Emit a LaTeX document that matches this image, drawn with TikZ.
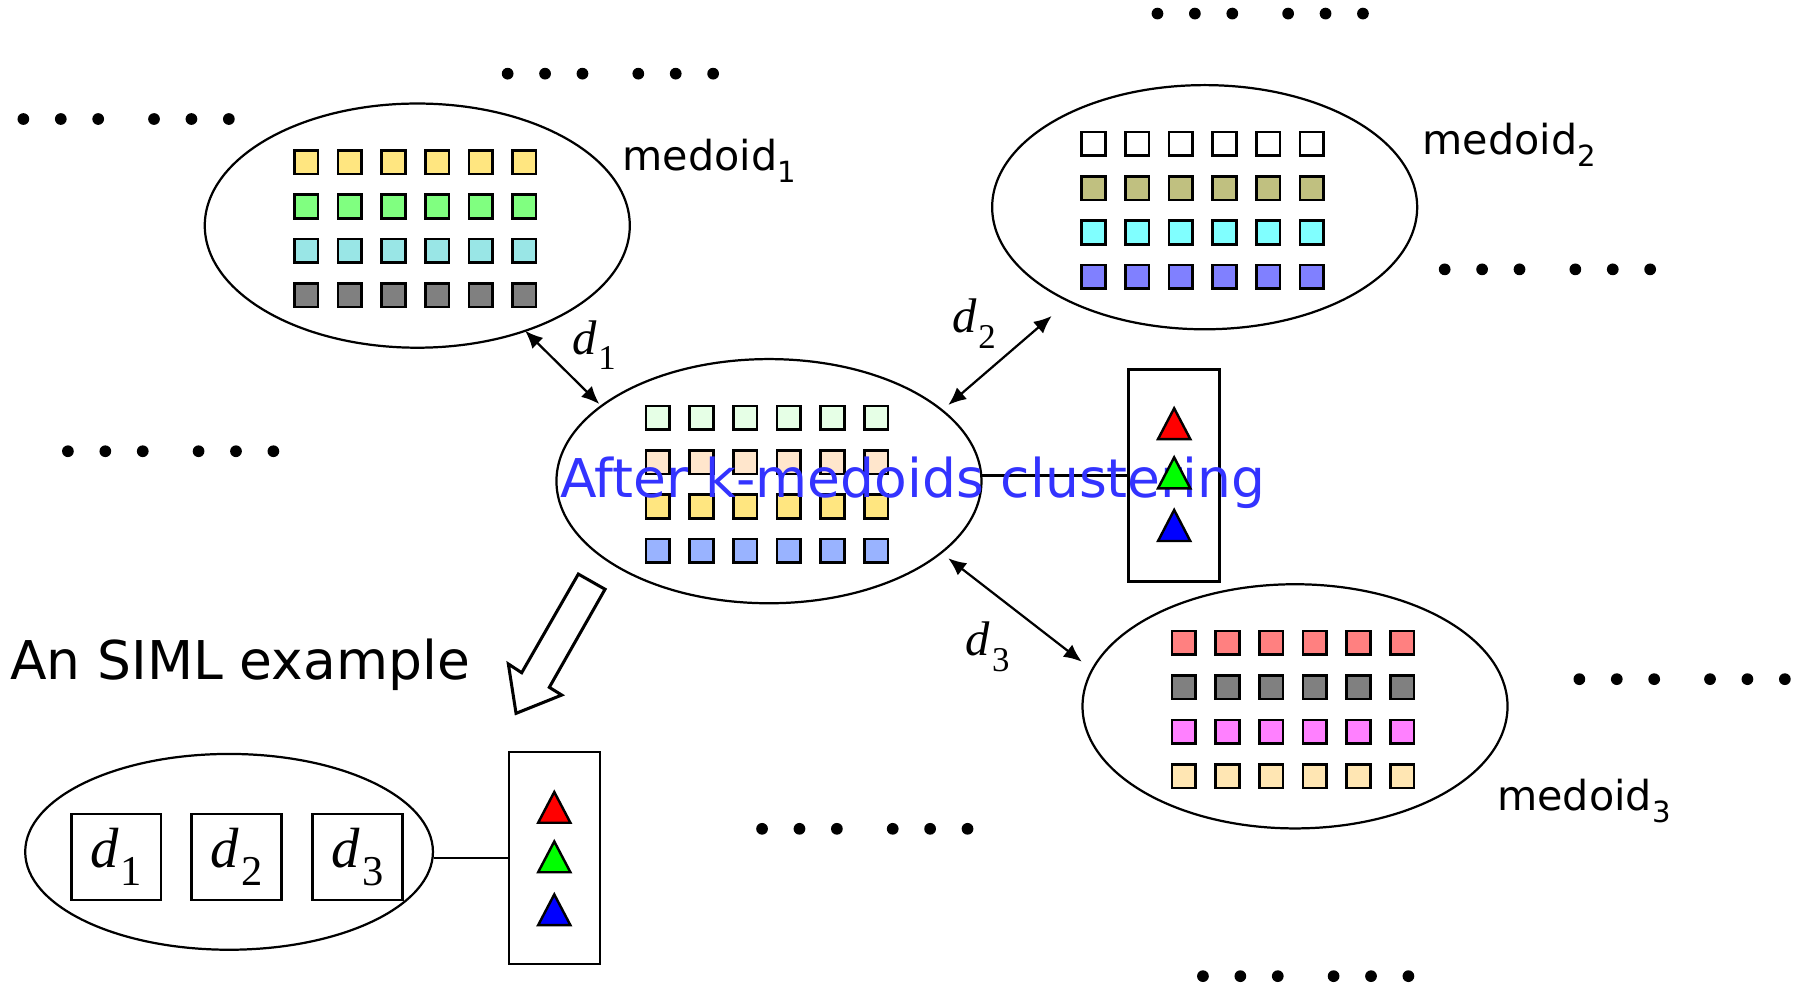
\documentclass[tikz,border=0pt]{standalone}
\usepackage{fontspec}
\setmainfont{DejaVu Sans}
\newfontfamily\tms{Liberation Serif}
\usetikzlibrary{shapes.geometric,arrows.meta}

% square fills, one colour per row
\definecolor{aY}{HTML}{FFE680}
\definecolor{aG}{HTML}{80FF80}
\definecolor{aT}{HTML}{99E6E6}
\definecolor{aK}{HTML}{808080}
\definecolor{bW}{HTML}{FFFFFF}
\definecolor{bO}{HTML}{C0C080}
\definecolor{bC}{HTML}{80FFFF}
\definecolor{bB}{HTML}{8080FF}
\definecolor{cG}{HTML}{E6FFE6}
\definecolor{cP}{HTML}{FFE6CC}
\definecolor{cY}{HTML}{FFE680}
\definecolor{cB}{HTML}{99B3FF}
\definecolor{dR}{HTML}{FF8080}
\definecolor{dK}{HTML}{808080}
\definecolor{dM}{HTML}{FF80FF}
\definecolor{dY}{HTML}{FFE6B3}
\definecolor{capblue}{HTML}{3333FF}

% italic d with an upright subscript
\newcommand\dsym[3]{{\tms\fontsize{#1}{#1}\selectfont\itshape d\kern0.04em\raisebox{-0.32em}{\upshape\fontsize{#2}{#2}\selectfont #3}}}
\newcommand\medlab[1]{{\fontsize{10.2}{10.2}\selectfont medoid\raisebox{-0.3em}{\fontsize{7.2}{7.2}\selectfont #1}}}

\begin{document}
\begin{tikzpicture}[x=0.01cm,y=-0.01cm,
  cluster/.style={draw, ellipse, line width=0.55pt, inner sep=0pt, outer sep=0pt,
                  minimum width=3.69cm, minimum height=2.12cm},
  sq/.style={draw, line width=0.65pt, inner sep=0pt, minimum size=0.205cm},
  dbox/.style={draw, line width=0.6pt, inner sep=0pt, minimum width=0.78cm, minimum height=0.75cm},
  lblbox/.style={draw, line width=0.6pt, inner sep=0pt, minimum width=0.79cm, minimum height=1.84cm},
  dist/.style={line width=0.55pt, {Latex[length=4.4pt,width=3.8pt]}-{Latex[length=4.4pt,width=3.8pt]}},
  tri/.style={draw, line width=0.6pt, line join=miter},
  dot/.style={fill=black},
]
\useasboundingbox (0,0) rectangle (1568,861);

% ---------- clusters ----------
\node[cluster] (m1) at (362.5,196) {};
\node[cluster] (m2) at (1046.5,180) {};
\node[cluster] (cen) at (668,418) {};
\node[cluster] (m3) at (1125,613.6) {};

% square grids inside the clusters
\foreach \e/\ca/\cb/\cc/\cd in {m1/aY/aG/aT/aK, m2/bW/bO/bC/bB, cen/cG/cP/cY/cB, m3/dR/dK/dM/dY}{
  \foreach \r/\col in {0/\ca,1/\cb,2/\cc,3/\cd}{
    \foreach \c in {0,...,5}{
      \node[sq, fill=\col] (\e-\r-\c) at ([shift={(-96.5+37.9*\c,-55.2+38.6*\r)}]\e.center) {};
    }
  }
}

% ---------- labels of the medoids ----------
\node[anchor=base west, inner sep=0pt] (lm1) at (540,148) {\medlab{1}};
\node[anchor=base west, inner sep=0pt] (lm2) at (1235,134) {\medlab{2}};
\node[anchor=base west, inner sep=0pt] (lm3) at (1300,704) {\medlab{3}};

% ---------- distance arrows ----------
\coordinate (d1a) at (456.1,287.3);
\coordinate (d1b) at (520.6,351);
\coordinate (d2a) at (823.8,351.8);
\coordinate (d2b) at (913.6,274.5);
\coordinate (d3a) at (823.8,485);
\coordinate (d3b) at (939.7,574.8);
\draw[dist] (d1a) -- (d1b);
\draw[dist] (d2a) -- (d2b);
\draw[dist] (d3a) -- (d3b);
\node (ld1) at (516,300) {\dsym{12}{8.6}{1}};
\node (ld2) at (846,281) {\dsym{12}{8.6}{2}};
\node (ld3) at (858,562) {\dsym{12}{8.6}{3}};

% ---------- label box of the central cluster ----------
\node[lblbox] (cbox) at (1020,413) {};
\draw[line width=0.55pt] (cbox.west) -- (cbox.west -| cen.east);
\node[anchor=base west, inner sep=0pt, text=capblue] (cap) at (486,432)
  {\fontsize{13.2}{13.2}\selectfont After k-medoids clustering};
\draw[tri, fill=red]          (1020,354.7) -- (1034,381.4) -- (1006,381.4) -- cycle;
\draw[tri, fill=green]        (1020,397.3) -- (1034,424.2) -- (1006,424.2) -- cycle;
\draw[tri, fill=blue]         (1020,443.0) -- (1034,470.0) -- (1006,470.0) -- cycle;

% ---------- hollow arrow towards the example ----------
\draw[line width=0.75pt, fill=white, line join=miter]
  (502.4,498.7) -- (525.6,511.9) -- (477.2,597.1) -- (488,603.8)
  -- (448.3,619.7) -- (441.6,576.8) -- (453.2,584.4) -- cycle;

\node[anchor=base west, inner sep=0pt] (title) at (8,590)
  {\fontsize{13.2}{13.2}\selectfont An SIML example};

% ---------- the SIML example ----------
\node[draw, ellipse, line width=0.55pt, inner sep=0pt, minimum width=3.54cm, minimum height=1.70cm] (bag) at (199,740) {};
\node[dbox] (x1) at (101,744.5) {\dsym{14}{10.5}{1}};
\node[dbox] (x2) at (205.5,744.5) {\dsym{14}{10.5}{2}};
\node[dbox] (x3) at (310.5,744.5) {\dsym{14}{10.5}{3}};
\node[lblbox] (bbox) at (481.5,745.5) {};
\draw[line width=0.55pt] (bbox.west) -- (bbox.west -| bag.east);
\draw[tri, fill=red]   (481.5,688) -- (495.5,714.7) -- (467.5,714.7) -- cycle;
\draw[tri, fill=green] (481.5,731) -- (495.5,757.7) -- (467.5,757.7) -- cycle;
\draw[tri, fill=blue]  (481.5,777) -- (495.5,803.7) -- (467.5,803.7) -- cycle;

% ---------- ellipsis dots ----------
\foreach \n/\x/\y in {g1/20.3/103.4, g2/441/64, g3/1005.5/11.8, g4/1255/234,
                     g5/59/392, g6/1372/590, g7/662/720, g8/1045/848}{
  \foreach \k/\o in {1/0, 2/32.5, 3/65, 4/113.5, 5/146, 6/178.5}{
    \fill[dot] (\x+\o,\y) circle[radius=5.1];
  }
}
\end{tikzpicture}
\end{document}
